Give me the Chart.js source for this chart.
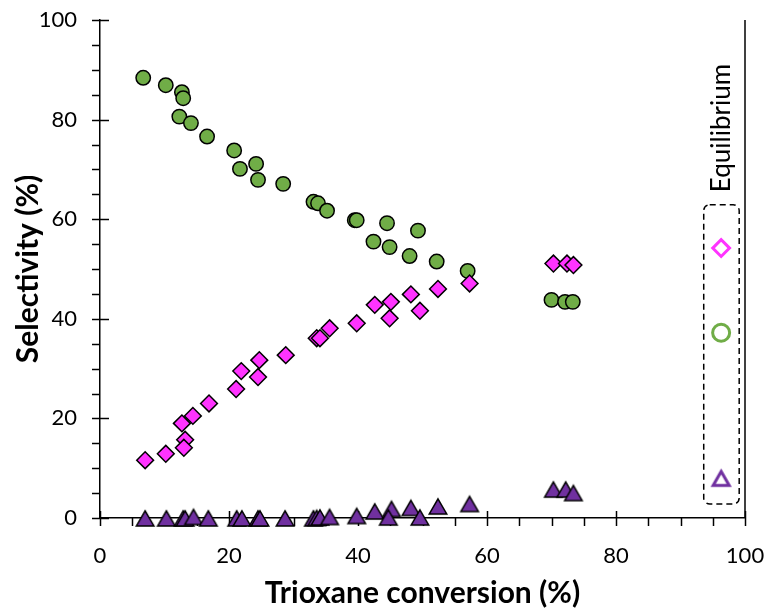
<!DOCTYPE html>
<html><head><meta charset="utf-8">
<script src="https://cdn.jsdelivr.net/npm/chart.js@4/dist/chart.umd.min.js"></script>
<style>html,body{margin:0;padding:0;background:#fff}</style>
</head><body>
<canvas id="c" width="769" height="611"></canvas>
<script>
// ---- data ----
const circleConv = [6.7,10.2,12.7,12.9,12.3,14.1,16.6,20.8,21.7,24.2,24.5,28.4,33.1,33.8,35.2,39.5,39.8,44.5,42.4,44.9,48.0,49.3,52.2,57.0,70.0,72.1,73.3];
const circleSel  = [88.4,86.9,85.5,84.3,80.6,79.3,76.6,73.8,70.1,71.1,67.9,67.1,63.5,63.2,61.7,59.8,59.8,59.2,55.5,54.4,52.6,57.7,51.5,49.6,43.8,43.4,43.4];

const diamondConv = [7.0,10.2,12.7,13.2,13.0,14.4,16.9,21.1,21.9,24.7,24.5,28.8,33.6,34.1,35.6,39.8,42.6,45.1,44.9,48.2,49.6,52.4,57.3,70.3,72.4,73.4];
const diamondSel  = [11.6,12.9,19.0,15.7,14.1,20.5,23.0,25.9,29.5,31.7,28.3,32.7,36.1,36.1,38.1,39.1,42.8,43.4,40.1,44.9,41.6,46.0,47.1,51.1,51.1,50.8];

const triangleConv = [7.0,10.3,12.9,13.2,14.5,16.8,21.2,22.0,24.5,24.8,28.7,33.1,33.6,34.1,35.6,39.8,42.6,45.2,44.7,48.2,49.6,52.4,57.3,70.3,72.2,73.4];
const triangleSel  = [0.0,0.0,0.0,0.0,0.3,0.0,0.0,0.0,0.0,0.0,0.0,0.0,0.1,0.2,0.3,0.5,1.4,1.9,0.2,2.1,0.2,2.4,2.9,5.8,5.8,5.1];

const equilibriumConv = [96.3];
const equilibriumDiamond = [54.2];
const equilibriumCircle = [37.2];
const equilibriumTriangle = [8.1];

const xTickValues = [0,20,40,60,80,100];
const yTickValues = [0,20,40,60,80,100];
const equilibriumLabel = 'Equilibrium';
// equilibrium box bounds in data units
const eqBoxX = [93.6, 99.1];
const eqBoxY = [2.8, 62.9];

const GREEN = '#70AD47', MAGENTA = '#FF33FF', PURPLE = '#7030A0';
const FONT = 'Lato, "Open Sans", sans-serif';

function pts(xs, ys){ return xs.map((x,i)=>({x:x, y:ys[i]})); }

function triCanvas(triW, fill, stroke, lw){
  const triH = triW*Math.sqrt(3)/2;
  const size = Math.ceil(triW + lw*3 + 4);
  const c = document.createElement('canvas');
  c.width = size; c.height = size;
  const ctx = c.getContext('2d');
  const cx = size/2, cy = size/2;
  const top = cy - (triH + 1.5*lw)/2 + lw;
  ctx.beginPath();
  ctx.moveTo(cx, top);
  ctx.lineTo(cx + triW/2, top + triH);
  ctx.lineTo(cx - triW/2, top + triH);
  ctx.closePath();
  ctx.lineJoin = 'miter';
  if (fill){ ctx.fillStyle = fill; ctx.fill(); }
  ctx.lineWidth = lw; ctx.strokeStyle = stroke; ctx.stroke();
  return c;
}
const triFilled = triCanvas(17.5, PURPLE, '#000', 1.5);
const triOpen = triCanvas(16, '#fff', PURPLE, 3);

const decor = {
  id:'decor',
  beforeDatasetsDraw(chart){
    const {ctx, scales:{x, y}} = chart;
    const ca = chart.chartArea;
    ctx.save();
    ctx.strokeStyle = '#000'; ctx.lineWidth = 1.5;
    ctx.beginPath(); ctx.moveTo(ca.right, ca.top); ctx.lineTo(ca.right, ca.bottom); ctx.stroke();
    for (let v = 0; v <= 100; v += 5){
      const py = Math.round(y.getPixelForValue(v)) + 0.5;
      const major = v % 20 === 0;
      ctx.beginPath(); ctx.moveTo(ca.left - 8, py); ctx.lineTo(ca.left + (major ? 9 : 0), py); ctx.stroke();
    }
    for (let v = 0; v <= 100; v += 5){
      const px = Math.round(x.getPixelForValue(v)) + 0.5;
      const major = v % 20 === 0;
      ctx.beginPath(); ctx.moveTo(px, ca.bottom + 8); ctx.lineTo(px, ca.bottom - (major ? 7 : 0)); ctx.stroke();
    }
    ctx.restore();
  },
  afterDraw(chart){
    const {ctx, scales:{x, y}} = chart;
    ctx.save();
    ctx.strokeStyle = '#000';
    const bx0 = x.getPixelForValue(eqBoxX[0]), bx1 = x.getPixelForValue(eqBoxX[1]);
    const by0 = y.getPixelForValue(eqBoxY[1]), by1 = y.getPixelForValue(eqBoxY[0]);
    ctx.setLineDash([6,4]); ctx.lineWidth = 1.5;
    ctx.beginPath();
    if (ctx.roundRect) ctx.roundRect(bx0, by0, bx1-bx0, by1-by0, 6); else ctx.rect(bx0, by0, bx1-bx0, by1-by0);
    ctx.stroke();
    ctx.setLineDash([]);
    ctx.fillStyle = '#000';
    ctx.font = '26px ' + FONT;
    ctx.textAlign = 'center'; ctx.textBaseline = 'middle';
    ctx.translate(x.getPixelForValue(equilibriumConv[0]), y.getPixelForValue(78.3));
    ctx.rotate(-Math.PI/2);
    ctx.fillText(equilibriumLabel, 0, 0);
    ctx.restore();
  }
};

new Chart(document.getElementById('c'), {
  type:'scatter',
  data:{ datasets:[
    {label:'Circle', data:pts(circleConv, circleSel), pointStyle:'circle', pointRadius:7.2, pointHoverRadius:7.2, backgroundColor:GREEN, borderColor:'#000', borderWidth:1.5, order:3, clip:false},
    {label:'Diamond', data:pts(diamondConv, diamondSel), pointStyle:'rectRot', pointRadius:8.4, pointHoverRadius:8.4, backgroundColor:MAGENTA, borderColor:'#000', borderWidth:1.5, order:2, clip:false},
    {label:'Triangle', data:pts(triangleConv, triangleSel), pointStyle:triFilled, pointRadius:10, order:1, clip:false},
    {label:'Eq diamond', data:pts(equilibriumConv, equilibriumDiamond), pointStyle:'rectRot', pointRadius:8.4, backgroundColor:'#fff', borderColor:MAGENTA, borderWidth:3, order:0, clip:false},
    {label:'Eq circle', data:pts(equilibriumConv, equilibriumCircle), pointStyle:'circle', pointRadius:8.5, backgroundColor:'#fff', borderColor:GREEN, borderWidth:3, order:0, clip:false},
    {label:'Eq triangle', data:pts(equilibriumConv, equilibriumTriangle), pointStyle:triOpen, pointRadius:10, order:0, clip:false}
  ]},
  options:{
    responsive:false, animation:false, devicePixelRatio:1,
    layout:{autoPadding:false, padding:{left:0, right:24, top:20, bottom:0}},
    plugins:{legend:{display:false}, tooltip:{enabled:false}},
    scales:{
      x:{type:'linear', min:0, max:100,
        afterBuildTicks(s){ s.ticks = xTickValues.map(v=>({value:v})); },
        afterFit(s){ s.height = 93; },
        grid:{display:true, drawOnChartArea:false, drawTicks:true, tickLength:25, color:'rgba(0,0,0,0)'},
        border:{display:true, color:'#000', width:1.5},
        ticks:{color:'#000', padding:0, maxRotation:0, font:{family:FONT, size:22}},
        title:{display:true, text:'Trioxane conversion (%)', color:'#000', padding:{top:0,bottom:0}, font:{family:FONT, size:30, weight:'bold'}}
      },
      y:{type:'linear', min:0, max:100,
        afterBuildTicks(s){ s.ticks = yTickValues.map(v=>({value:v})); },
        afterFit(s){ s.width = 100; },
        grid:{display:true, drawOnChartArea:false, drawTicks:true, tickLength:23, color:'rgba(0,0,0,0)'},
        border:{display:true, color:'#000', width:1.5},
        ticks:{color:'#000', padding:0, font:{family:FONT, size:22}},
        title:{display:true, text:'Selectivity (%)', color:'#000', padding:{top:10,bottom:0}, font:{family:FONT, size:30, weight:'bold'}}
      }
    }
  },
  plugins:[decor]
});
</script>
</body></html>
